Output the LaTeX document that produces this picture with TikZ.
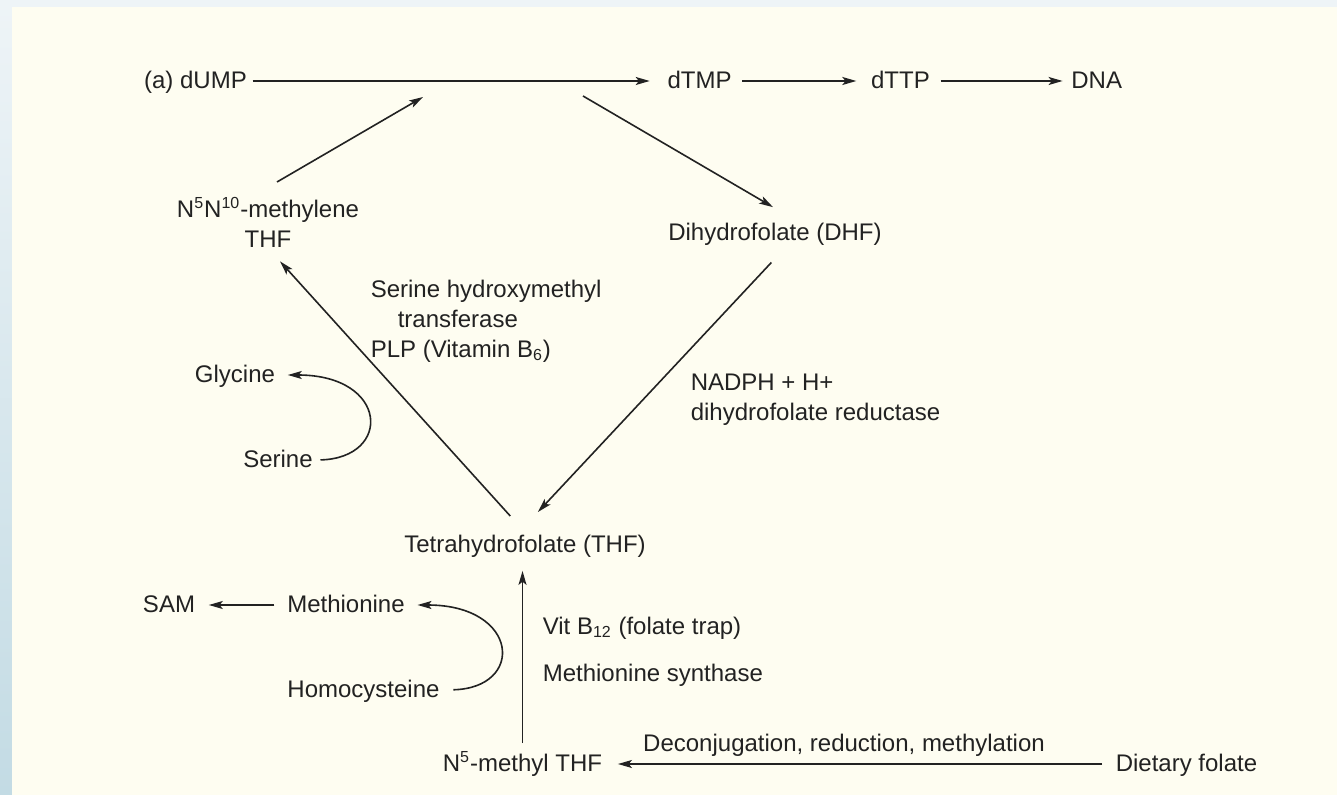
\documentclass[tikz,border=0pt]{standalone}
\usepackage{fontspec}
\setmainfont{Liberation Sans}
\usepackage{tikz}
\usetikzlibrary{positioning}
\usetikzlibrary{arrows.meta}

\definecolor{ink}{HTML}{222222}
\definecolor{paper}{HTML}{FEFDF1}
\definecolor{rimtop}{HTML}{EEF4F7}
\definecolor{rimbot}{HTML}{C3DBE4}

\tikzset{
	mol/.style={inner sep=2pt, text height=8.6pt, text depth=1.5pt},
	enz/.style={inner sep=2pt, align=left},
	rx/.style={->, shorten <=3pt, shorten >=5pt},
}

\begin{document}
\begin{tikzpicture}[x=0.5pt, y=-0.5pt, line width=0.8pt, color=ink,
	>={Stealth[length=7pt,width=4pt,inset=1.6pt]},
	every node/.style={font=\fontsize{12}{15}\selectfont}]
	% page
	\shade[top color=rimtop, bottom color=rimbot] (0,0) rectangle (12,795);
	\fill[rimtop] (12,0) rectangle (1337,7);
	\fill[paper] (12,7) rectangle (1337,795);
	\useasboundingbox (0,0) rectangle (1337,795);

	% top row
	\node[mol] (dump) at (195.5,81) {(a) dUMP};
	\node[mol] (dtmp) at (699.5,81) {dTMP};
	\node[mol] (dttp) [right = 65pt of dtmp] {dTTP};
	\node[mol] (dna) [right = 66pt of dttp] {DNA};

	\draw[rx, shorten <=0.5pt, shorten >=6.5pt] (dump) -- (dtmp);
	\draw[rx] (dtmp) -- (dttp);
	\draw[rx, shorten >=2pt] (dttp) -- (dna);

	\coordinate (hub) at (423,97);
	\coordinate (hubout) at (583,96);

	% folate cycle
	\node[enz, align=center, anchor=north] (mthf) at (268,193) {N\textsuperscript{5}N\textsuperscript{10}-methylene\\THF};
	\node[mol] (dhf) at (775,233) {Dihydrofolate (DHF)};
	\node[mol] (thf) at (525,545) {Tetrahydrofolate (THF)};

	\draw[->] ([shift={(4.5pt,5.5pt)}]mthf.north) -- (hub);
	\draw[->] (hubout) -- ([xshift=-1pt, yshift=5.5pt]dhf.north);
	\draw[->, shorten <=10pt, shorten >=12.4pt] ([xshift=5pt]dhf.south) -- ([xshift=-2pt]thf.north);
	\draw[->, shorten <=9.5pt, shorten >=6pt] ([xshift=-1pt]thf.north) -- ([xshift=2pt]mthf.south);

	\node[enz, anchor=north west] (shmt) at (366,275) {Serine hydroxymethyl\\\hspace*{13.5pt}transferase\\PLP (Vitamin B\textsubscript{6})};
	\node[enz, anchor=north west] (dhfr) at (686,369) {NADPH + H+\\dihydrofolate reductase};

	% serine -> glycine
	\node[mol] (gly) at (235,375) {Glycine};
	\node[mol] (ser) at (278,460) {Serine};
	\draw[->, shorten <=1.5pt, shorten >=4pt] (ser.east) .. controls +(75,-2) and +(109,0) .. (gly.east);

	% methionine side
	\node[mol] (sam) at (169,605) {SAM};
	\node[mol] (met) at (346,605) {Methionine};
	\node[mol] (hcy) at (363.5,690) {Homocysteine};
	\draw[->, shorten <=4pt, shorten >=4.5pt] (met) -- (sam);
	\draw[->, shorten <=4.5pt, shorten >=4pt] (hcy.east) .. controls +(81,-2) and +(110,0) .. (met.east);

	% bottom
	\node[mol] (n5m) at (522.5,764) {N\textsuperscript{5}-methyl THF};
	\node[mol] (diet) at (1186.5,764) {Dietary folate};
	\draw[->, shorten <=3pt, shorten >=5.5pt] (n5m.north) -- (n5m.north |- thf.south);
	\draw[->, shorten <=4.5pt, shorten >=5.5pt] (diet) -- (n5m);

	\node[enz, anchor=north west] (b12) at (538,612) {Vit B\textsubscript{12} (folate trap)\\[8.5pt]Methionine synthase};
	\node (deconj) at (844,745) {Deconjugation, reduction, methylation};
\end{tikzpicture}
\end{document}
